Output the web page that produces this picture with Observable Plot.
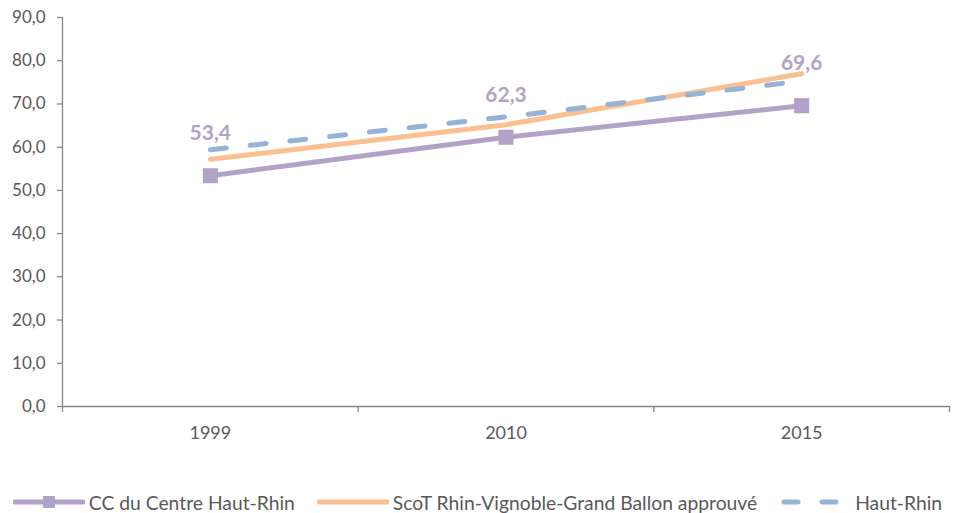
<!DOCTYPE html>
<html>
<head>
<meta charset="utf-8">
<script src="https://cdn.jsdelivr.net/npm/d3@7"></script>
<script src="https://cdn.jsdelivr.net/npm/@observablehq/plot@0.6"></script>
<style>
  html, body { margin: 0; padding: 0; background: #fff; }
  body { width: 955px; height: 513px; overflow: hidden; font-family: Lato, "Open Sans", sans-serif; }
  #legend { display: flex; justify-content: center; align-items: center; height: 28px; color: #595959; font-size: 19.3px; }
  .item { display: flex; align-items: center; margin: 0 11px; white-space: nowrap; }
  .item svg { margin-right: 4px; }
</style>
</head>
<body>
<div id="chart"></div>
<div id="legend"></div>
<script>
const years = ["1999", "2010", "2015"];
const seriesNames = ["CC du Centre Haut-Rhin", "ScoT Rhin-Vignoble-Grand Ballon approuvé", "Haut-Rhin"];
const ccCentre = [53.4, 62.3, 69.6];
const scot = [57.2, 65.2, 77.0];
const hautRhin = [59.4, 67.0, 75.3];
const yTicks = [0, 10, 20, 30, 40, 50, 60, 70, 80, 90];

const colors = ["#b3a2c7", "#fac090", "#95b3d7"];
const fmt = d => d.toFixed(1).replace(".", ",");

const rows = (vals, name) => vals.map((v, i) => ({i, year: years[i], value: v, series: name}));
const dCC = rows(ccCentre, seriesNames[0]);
const dScot = rows(scot, seriesNames[1]);
const dHR = rows(hautRhin, seriesNames[2]);

const xDomain = [-0.5, years.length - 0.5];
const boundaries = d3.range(years.length + 1).map(k => k - 0.5);
const centers = years.map((_, i) => i);

const axisColor = "#868686";
const textColor = "#595959";

const chart = Plot.plot({
  width: 955,
  height: 488,
  marginLeft: 62,
  marginRight: 6,
  marginTop: 17,
  marginBottom: 82,
  style: {fontFamily: "Lato, 'Open Sans', sans-serif", background: "#fff"},
  x: {type: "linear", domain: xDomain, label: null},
  y: {domain: [0, 90], label: null},
  marks: [
    Plot.axisY({ticks: yTicks, tickFormat: fmt, tickSize: 5, tickPadding: 12, stroke: axisColor, strokeWidth: 1.3, strokeOpacity: 1, fill: textColor, fontSize: 17, label: null}),
    Plot.axisX({ticks: boundaries, tickFormat: () => "", tickSize: 6, stroke: axisColor, strokeWidth: 1.3, strokeOpacity: 1, label: null}),
    Plot.axisX({ticks: centers, tickFormat: i => years[i], tickSize: 0, tickPadding: 20, fill: textColor, fontSize: 18, label: null}),
    Plot.ruleX([xDomain[0]], {stroke: axisColor, strokeWidth: 1.3}),
    Plot.ruleY([0], {stroke: axisColor, strokeWidth: 1.3}),
    Plot.line(dCC, {x: "i", y: "value", stroke: colors[0], strokeWidth: 5, strokeLinecap: "butt"}),
    Plot.dot(dCC, {x: "i", y: "value", symbol: "square", r: 8.5, fill: colors[0], stroke: "none"}),
    Plot.line(dScot, {x: "i", y: "value", stroke: colors[1], strokeWidth: 5, strokeLinecap: "round"}),
    Plot.line(dHR, {x: "i", y: "value", stroke: colors[2], strokeWidth: 5, strokeLinecap: "round", strokeDasharray: "16,24"}),
    Plot.text(dCC, {x: "i", y: "value", text: d => fmt(d.value), dy: -42, fill: colors[0], fontSize: 21, fontWeight: "bold"})
  ]
});
document.getElementById("chart").appendChild(chart);

// Legend
const legend = d3.select("#legend");
seriesNames.forEach((name, k) => {
  const item = legend.append("div").attr("class", "item");
  const svg = item.append("svg").attr("width", 72).attr("height", 14);
  const line = svg.append("line").attr("x1", 2).attr("x2", 70).attr("y1", 7).attr("y2", 7)
    .attr("stroke", colors[k]).attr("stroke-width", 5);
  if (k === 2) line.attr("stroke-dasharray", "14,24").attr("stroke-linecap", "round").attr("x1", 5).attr("x2", 70);
  else line.attr("stroke-linecap", "round");
  if (k === 0) svg.append("rect").attr("x", 30).attr("y", 1).attr("width", 12).attr("height", 12).attr("fill", colors[0]);
  item.append("span").text(name);
});
</script>
</body>
</html>
